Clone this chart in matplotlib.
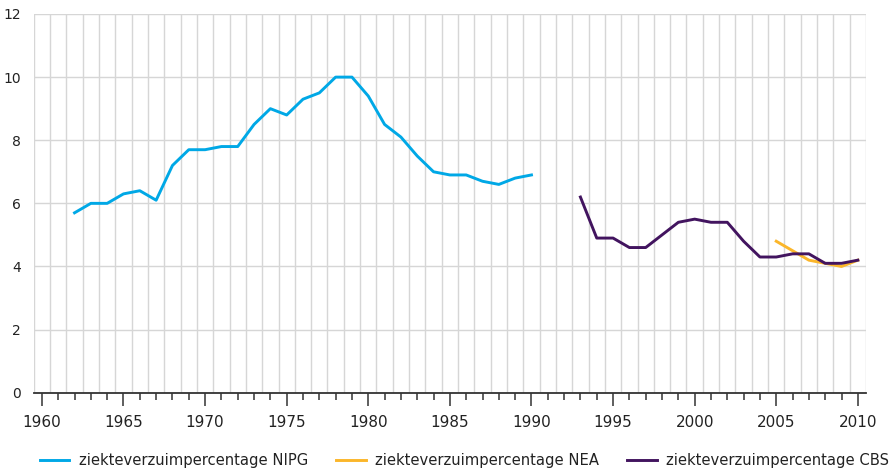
import matplotlib
matplotlib.use("Agg")
import matplotlib.pyplot as plt
import numpy as np
from matplotlib.ticker import MultipleLocator, FixedLocator

plt.rcParams['font.family'] = ['DejaVu Sans']

years_nipg = list(range(1962, 1991))
nipg = [5.7, 6.0, 6.0, 6.3, 6.4, 6.1, 7.2, 7.7, 7.7, 7.8, 7.8, 8.5, 9.0, 8.8, 9.3,
        9.5, 10.0, 10.0, 9.4, 8.5, 8.1, 7.5, 7.0, 6.9, 6.9, 6.7, 6.6, 6.8, 6.9]
years_nea = list(range(2005, 2011))
nea = [4.8, 4.5, 4.2, 4.1, 4.0, 4.2]
years_cbs = list(range(1993, 2011))
cbs = [6.2, 4.9, 4.9, 4.6, 4.6, 5.0, 5.4, 5.5, 5.4, 5.4, 4.8, 4.3, 4.3, 4.4, 4.4,
       4.1, 4.1, 4.2]
labels = ['ziekteverzuimpercentage NIPG', 'ziekteverzuimpercentage NEA',
          'ziekteverzuimpercentage CBS']
colors = ['#00A8E6', '#FBB62A', '#42145F']

fig = plt.figure(figsize=(8.95, 4.71), dpi=100)
ax = fig.add_axes([0.0377, 0.1662, 0.9299, 0.8041])

ax.plot(years_nipg, nipg, color=colors[0], lw=2.1, label=labels[0], zorder=3)
ax.plot(years_nea, nea, color=colors[1], lw=2.1, label=labels[1], zorder=3)
ax.plot(years_cbs, cbs, color=colors[2], lw=2.1, label=labels[2], zorder=4)

ax.set_xlim(1959.5, 2010.5)
ax.set_ylim(0, 12)

# grid
for x in np.arange(1959.5, 2011, 1.0):
    ax.axvline(x, color='#d6d6d6', lw=1.0, zorder=1)
for y in range(0, 13, 2):
    ax.axhline(y, color='#d6d6d6', lw=1.0, zorder=1)

ax.xaxis.set_major_locator(MultipleLocator(5))
ax.xaxis.set_minor_locator(MultipleLocator(1))
ax.yaxis.set_major_locator(FixedLocator(range(0, 13, 2)))
ax.tick_params(axis='x', which='major', direction='out', length=9, width=1.1,
               color='#333333', labelsize=11, labelcolor='#222222', pad=7)
ax.tick_params(axis='x', which='minor', direction='out', length=5, width=1.1,
               color='#333333')
ax.tick_params(axis='y', length=0, labelsize=10, labelcolor='#222222', pad=9)
for lbl in ax.get_yticklabels():
    lbl.set_verticalalignment('center_baseline')

for s in ['top', 'right', 'left']:
    ax.spines[s].set_visible(False)
ax.spines['bottom'].set_color('#333333')
ax.spines['bottom'].set_linewidth(1.3)
ax.spines['bottom'].set_zorder(5)

fig.legend(loc='lower center', bbox_to_anchor=(0.519, -0.022), ncol=3, frameon=False,
           fontsize=10.6, handlelength=2.0, columnspacing=1.9, handletextpad=0.65,
           labelcolor='#222222')

fig.savefig('out.png', dpi=100)
